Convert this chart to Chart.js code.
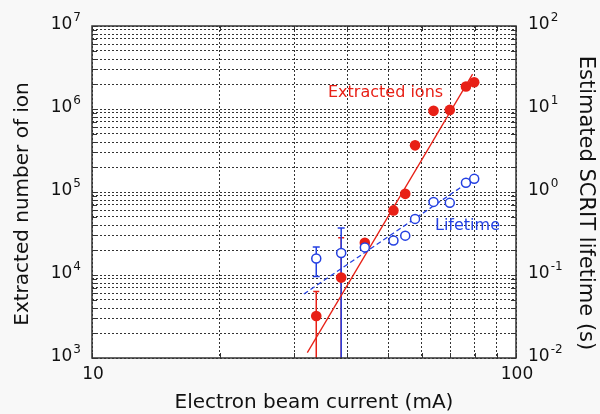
<!DOCTYPE html>
<html>
<head>
<meta charset="utf-8">
<script src="https://cdn.jsdelivr.net/npm/chart.js@4.4.1/dist/chart.umd.min.js"></script>
<style>
  html, body { margin: 0; padding: 0; background: #f8f8f8; }
  #wrap { width: 600px; height: 414px; }
</style>
</head>
<body>
<div id="wrap"><canvas id="grafico" width="600" height="414"></canvas></div>
<script>
// dados (corrente do feixe em mA)
const correntes = [33.8, 38.7, 44.0, 51.4, 54.8, 57.8, 63.9, 69.8, 76.2, 79.7];
const ionsExtraidos = [3200, 9300, 24500, 60000, 95000, 365000, 950000, 975000, 1870000, 2100000];
const tempoVida = [0.158, 0.184, 0.215, 0.26, 0.298, 0.474, 0.76, 0.74, 1.29, 1.44];

// barras de erro (null = sem barra)
const ionsErroSup = [6330, 28200, null, null, null, null, null, null, null, null];
const ionsErroInf = [400, 400, null, null, null, null, null, null, null, null];
const vidaErroSup = [0.218, 0.369, null, null, null, null, null, null, null, null];
const vidaErroInf = [0.096, 0.004, null, null, null, null, null, null, null, null];

// retas de ajuste
const ajusteIonsX = [32.2, 79.0];
const ajusteIonsY = [1160, 2630000];
const ajusteVidaX = [31.6, 81.5];
const ajusteVidaY = [0.059, 1.58];

// ticks dos eixos
const ticksX = [10, 20, 30, 40, 50, 60, 70, 80, 90, 100];
const rotulosX = [10, 100];
const decadasEsq = [3, 4, 5, 6, 7];
const decadasDir = [-2, -1, 0, 1, 2];

const VERMELHO = 'rgb(232, 32, 22)';
const AZUL = 'rgb(36, 64, 226)';
const FONTE = '"DejaVu Sans", Verdana, sans-serif';

const ticksEsq = [];
decadasEsq.forEach(e => {
    if (e === 7) { ticksEsq.push(1e7); return; }
    for (let m = 1; m <= 9; m++) ticksEsq.push(m * Math.pow(10, e));
});

const pares = (xs, ys) => xs.map((x, i) => ({ x: x, y: ys[i] }));

function desenhaBarras(ctx, escalaX, escalaY, xs, sup, inf, cor, largura) {
    ctx.strokeStyle = cor;
    ctx.lineWidth = 1.5;
    xs.forEach((x, i) => {
        if (sup[i] == null) return;
        const px = escalaX.getPixelForValue(x);
        const pTop = escalaY.getPixelForValue(sup[i]);
        const pBot = escalaY.getPixelForValue(inf[i]);
        ctx.beginPath();
        ctx.moveTo(px, pTop);
        ctx.lineTo(px, pBot);
        ctx.moveTo(px - largura, pTop);
        ctx.lineTo(px + largura, pTop);
        ctx.moveTo(px - largura, pBot);
        ctx.lineTo(px + largura, pBot);
        ctx.stroke();
    });
}

function potencia(ctx, x, y, exp, alinhamento) {
    const base = '10';
    const expo = exp < 0 ? '-' + Math.abs(exp) : String(exp);
    ctx.font = '17px ' + FONTE;
    const wBase = ctx.measureText(base).width;
    ctx.font = '12px ' + FONTE;
    const wExp = ctx.measureText(expo).width;
    let x0 = alinhamento === 'right' ? x - wBase - wExp - 1 : x;
    ctx.fillStyle = '#111';
    ctx.textAlign = 'left';
    ctx.textBaseline = 'middle';
    ctx.font = '17px ' + FONTE;
    ctx.fillText(base, x0, y - 1);
    ctx.font = '12px ' + FONTE;
    ctx.textBaseline = 'alphabetic';
    ctx.fillText(expo, x0 + wBase + 1, y - 5);
}

const desenhoExtra = {
    id: 'desenhoExtra',
    beforeDraw(chart) {
        const a = chart.chartArea;
        const ctx = chart.ctx;
        ctx.save();
        ctx.fillStyle = '#ffffff';
        ctx.fillRect(a.left, a.top, a.right - a.left, a.bottom - a.top);
        ctx.restore();
    },
    beforeDatasetsDraw(chart) {
        const a = chart.chartArea;
        const ctx = chart.ctx;
        ctx.save();
        ctx.beginPath();
        ctx.rect(a.left, a.top, a.right - a.left, a.bottom - a.top);
        ctx.clip();
        desenhaBarras(ctx, chart.scales.x, chart.scales.y, correntes, ionsErroSup, ionsErroInf, VERMELHO, 3);
        desenhaBarras(ctx, chart.scales.x, chart.scales.y2, correntes, vidaErroSup, vidaErroInf, AZUL, 3.5);
        ctx.restore();
    },
    afterDraw(chart) {
        const a = chart.chartArea;
        const ctx = chart.ctx;
        const sx = chart.scales.x, sy = chart.scales.y, sy2 = chart.scales.y2;
        ctx.save();

        // moldura e marcas internas
        ctx.strokeStyle = '#333';
        ctx.lineWidth = 1.5;
        ctx.strokeRect(a.left, a.top, a.right - a.left, a.bottom - a.top);
        ctx.lineWidth = 1;
        ctx.beginPath();
        ticksEsq.forEach(v => {
            const py = Math.round(sy.getPixelForValue(v)) + 0.5;
            ctx.moveTo(a.left, py); ctx.lineTo(a.left + 5, py);
            ctx.moveTo(a.right, py); ctx.lineTo(a.right - 5, py);
        });
        ticksX.forEach(v => {
            const px = Math.round(sx.getPixelForValue(v)) + 0.5;
            ctx.moveTo(px, a.bottom); ctx.lineTo(px, a.bottom - 5);
            ctx.moveTo(px, a.top); ctx.lineTo(px, a.top + 5);
        });
        ctx.stroke();

        // rótulos dos eixos
        decadasEsq.forEach(e => potencia(ctx, a.left - 11, sy.getPixelForValue(Math.pow(10, e)), e, 'right'));
        decadasDir.forEach(e => potencia(ctx, a.right + 12, sy2.getPixelForValue(Math.pow(10, e)), e, 'left'));

        ctx.fillStyle = '#111';
        ctx.font = '17px ' + FONTE;
        ctx.textAlign = 'center';
        ctx.textBaseline = 'middle';
        rotulosX.forEach(v => ctx.fillText(String(v), sx.getPixelForValue(v) + 1, a.bottom + 17));

        // títulos
        ctx.font = '20px ' + FONTE;
        ctx.fillText('Electron beam current (mA)', 314, 403);

        ctx.save();
        ctx.translate(23, 204);
        ctx.rotate(-Math.PI / 2);
        ctx.fillText('Extracted number of ion', 0, 0);
        ctx.restore();

        ctx.save();
        ctx.translate(585, 203);
        ctx.rotate(Math.PI / 2);
        ctx.font = '21px ' + FONTE;
        ctx.fillText('Estimated SCRIT lifetime (s)', 0, 0);
        ctx.restore();

        // legendas no gráfico
        ctx.font = '16px ' + FONTE;
        ctx.textAlign = 'left';
        ctx.fillStyle = VERMELHO;
        ctx.fillText('Extracted ions', 328, 93);
        ctx.fillStyle = AZUL;
        ctx.fillText('Lifetime', 435, 226);

        ctx.restore();
    }
};

new Chart(document.getElementById('grafico'), {
    type: 'scatter',
    data: {
        datasets: [
            {
                label: 'Lifetime',
                data: pares(correntes, tempoVida),
                yAxisID: 'y2',
                pointStyle: 'circle',
                pointRadius: 4.5,
                pointBorderWidth: 1.5,
                borderColor: AZUL,
                backgroundColor: '#ffffff',
                order: 0
            },
            {
                label: 'Extracted ions',
                data: pares(correntes, ionsExtraidos),
                yAxisID: 'y',
                pointRadius: 5.3,
                pointBorderWidth: 0,
                borderColor: VERMELHO,
                backgroundColor: VERMELHO,
                order: 1
            },
            {
                label: 'ajuste vida',
                data: pares(ajusteVidaX, ajusteVidaY),
                yAxisID: 'y2',
                showLine: true,
                pointRadius: 0,
                borderColor: AZUL,
                borderWidth: 1.3,
                borderDash: [5, 3],
                order: 2
            },
            {
                label: 'ajuste ions',
                data: pares(ajusteIonsX, ajusteIonsY),
                yAxisID: 'y',
                showLine: true,
                pointRadius: 0,
                borderColor: VERMELHO,
                borderWidth: 1.3,
                order: 3
            }
        ]
    },
    options: {
        responsive: false,
        animation: false,
        devicePixelRatio: 1,
        layout: { padding: { top: 26, left: 0, right: 0, bottom: 0 } },
        plugins: {
            legend: { display: false },
            tooltip: { enabled: false }
        },
        scales: {
            x: {
                type: 'logarithmic',
                min: 10,
                max: 100,
                afterBuildTicks: (s) => { s.ticks = ticksX.map(v => ({ value: v })); },
                afterFit: (s) => { s.height = 56; },
                ticks: { display: false },
                grid: { color: '#333', lineWidth: 1, drawTicks: false },
                border: { display: false, dash: [2, 2] }
            },
            y: {
                type: 'logarithmic',
                position: 'left',
                min: 1e3,
                max: 1e7,
                afterBuildTicks: (s) => { s.ticks = ticksEsq.map(v => ({ value: v })); },
                afterFit: (s) => { s.width = 92; },
                ticks: { display: false },
                grid: { color: '#333', lineWidth: 1, drawTicks: false },
                border: { display: false, dash: [2, 2] }
            },
            y2: {
                type: 'logarithmic',
                position: 'right',
                min: 1e-2,
                max: 1e2,
                afterFit: (s) => { s.width = 84; },
                ticks: { display: false },
                grid: { display: false, drawTicks: false },
                border: { display: false }
            }
        }
    },
    plugins: [desenhoExtra]
});
</script>
</body>
</html>
